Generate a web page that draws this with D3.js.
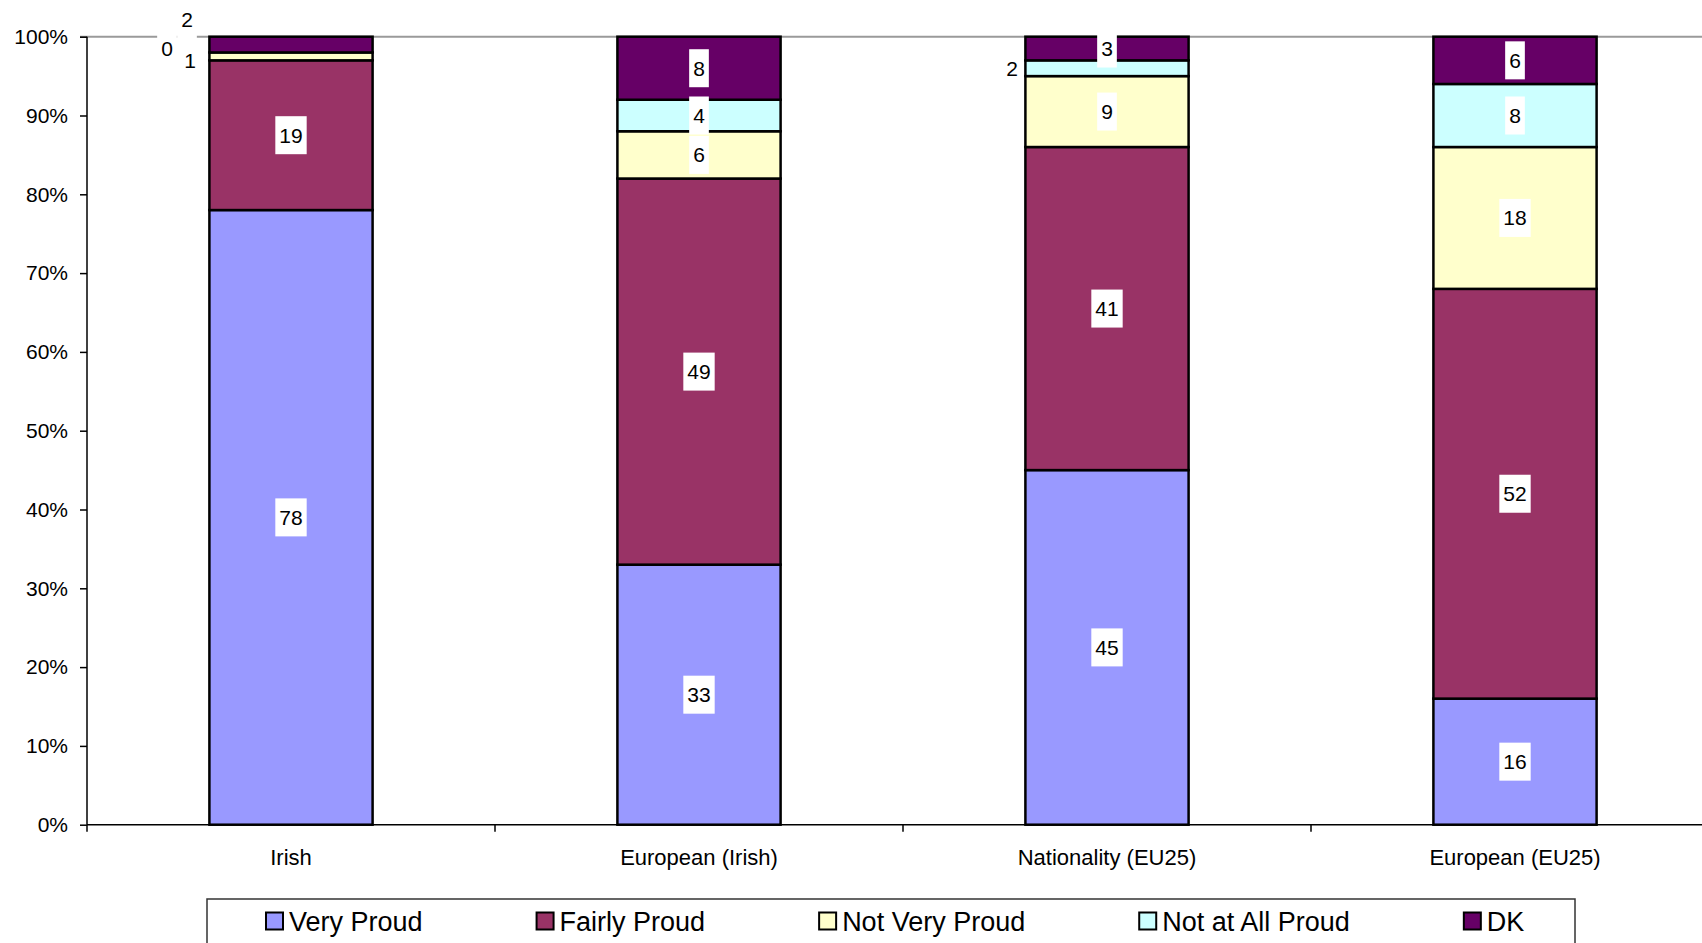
<!DOCTYPE html>
<html>
<head>
<meta charset="utf-8">
<script src="https://cdn.jsdelivr.net/npm/d3@7"></script>
<style>
  html, body { margin: 0; padding: 0; background: #fff; }
  svg { display: block; font-family: "Liberation Sans", Arial, sans-serif; }
</style>
</head>
<body>
<svg id="chart" width="1702" height="943"></svg>
<script>
// Pride in nationality / being European, % of respondents
const categories = ["Irish", "European (Irish)", "Nationality (EU25)", "European (EU25)"];
const seriesNames = ["Very Proud", "Fairly Proud", "Not Very Proud", "Not at All Proud", "DK"];
const veryProud     = [78, 33, 45, 16];
const fairlyProud   = [19, 49, 41, 52];
const notVeryProud  = [1, 6, 9, 18];
const notAtAllProud = [0, 4, 2, 8];
const dontKnow      = [2, 8, 3, 6];
const yTicks = [0, 10, 20, 30, 40, 50, 60, 70, 80, 90, 100];

const seriesValues = [veryProud, fairlyProud, notVeryProud, notAtAllProud, dontKnow];
const colors = ["#9999FF", "#993366", "#FFFFCC", "#CCFFFF", "#660066"];

// Labels of thin segments sit beside the bar instead of inside it (px offsets)
const labelNudge = {
  "Irish|Not Very Proud": [-101, 4],
  "Irish|Not at All Proud": [-124, -4],
  "Irish|DK": [-104, -25],
  "Nationality (EU25)|Not at All Proud": [-95, 0]
};

const svg = d3.select("#chart");
const plot = { left: 87, right: 1719, top: 36.7, bottom: 824.7 };

const x = d3.scaleBand()
  .domain(categories)
  .range([plot.left, plot.right])
  .paddingInner(0.6)
  .paddingOuter(0.3);

const y = d3.scaleLinear()
  .domain([0, 100])
  .range([plot.bottom, plot.top]);

// Stack the series per category
const rows = categories.map((c, i) => {
  const r = { category: c };
  seriesNames.forEach((s, k) => { r[s] = seriesValues[k][i]; });
  return r;
});
const stacked = d3.stack().keys(seriesNames)(rows);

// Top border of the plot area
svg.append("line")
  .attr("x1", plot.left - 7).attr("x2", 1702)
  .attr("y1", y(100)).attr("y2", y(100))
  .attr("stroke", "#9a9a9a").attr("stroke-width", 2);

// Bars
const layers = svg.append("g").selectAll("g")
  .data(stacked)
  .join("g")
  .attr("fill", (d, k) => colors[k]);

layers.selectAll("rect")
  .data(d => d.map(p => ({ p, key: d.key })))
  .join("rect")
  .attr("x", d => x(d.p.data.category))
  .attr("width", x.bandwidth())
  .attr("y", d => y(d.p[1]))
  .attr("height", d => y(d.p[0]) - y(d.p[1]))
  .attr("stroke", "#000")
  .attr("stroke-width", 2.5);

// Y axis
const yAxis = svg.append("g")
  .attr("transform", `translate(${plot.left},0)`)
  .call(d3.axisLeft(y).tickValues(yTicks).tickFormat(d => d + "%").tickSize(7).tickPadding(12));
yAxis.select(".domain").attr("stroke", "#000").attr("stroke-width", 1.5)
  .attr("d", `M0,${y(100)}V${y(0)}`);
yAxis.selectAll(".tick line").attr("stroke", "#000").attr("stroke-width", 1.5);
yAxis.selectAll(".tick text")
  .attr("font-size", 21).attr("fill", "#000")
  .attr("font-family", "Liberation Sans, Arial, sans-serif");

// X axis line and category boundary ticks
const xAxis = svg.append("g");
xAxis.append("line")
  .attr("x1", plot.left).attr("x2", 1702)
  .attr("y1", y(0)).attr("y2", y(0))
  .attr("stroke", "#000").attr("stroke-width", 1.5);
xAxis.selectAll(".bound")
  .data(d3.range(categories.length + 1))
  .join("line")
  .attr("class", "bound")
  .attr("x1", i => plot.left + i * (plot.right - plot.left) / categories.length)
  .attr("x2", i => plot.left + i * (plot.right - plot.left) / categories.length)
  .attr("y1", y(0)).attr("y2", y(0) + 7)
  .attr("stroke", "#000").attr("stroke-width", 1.5);
xAxis.selectAll(".cat")
  .data(categories)
  .join("text")
  .attr("class", "cat")
  .attr("x", d => x(d) + x.bandwidth() / 2)
  .attr("y", 857)
  .attr("dy", "0.35em")
  .attr("text-anchor", "middle")
  .attr("font-size", 22)
  .attr("fill", "#000")
  .text(d => d);

// Value labels with white boxes
const labels = [];
stacked.forEach(layer => {
  layer.forEach(p => {
    const key = p.data.category + "|" + layer.key;
    const nudge = labelNudge[key] || [0, 0];
    labels.push({
      value: p[1] - p[0],
      cx: x(p.data.category) + x.bandwidth() / 2 + nudge[0],
      cy: (y(p[0]) + y(p[1])) / 2 + nudge[1]
    });
  });
});

const labelG = svg.append("g").selectAll("g")
  .data(labels)
  .join("g")
  .attr("transform", d => `translate(${d.cx},${d.cy})`);
labelG.append("rect").attr("fill", "#fff");
labelG.append("text")
  .attr("text-anchor", "middle")
  .attr("dy", "0.35em")
  .attr("font-size", 21)
  .attr("fill", "#000")
  .text(d => d.value);
labelG.each(function () {
  const g = d3.select(this);
  const w = g.select("text").node().getComputedTextLength() + 8;
  g.select("rect").attr("x", -w / 2).attr("y", -19).attr("width", w).attr("height", 38);
});

// Legend
const legend = svg.append("g");
legend.append("rect")
  .attr("x", 207).attr("y", 899)
  .attr("width", 1575 - 207).attr("height", 80)
  .attr("fill", "#fff").attr("stroke", "#333").attr("stroke-width", 1.5);
let lx = 266;
seriesNames.forEach((s, k) => {
  const item = legend.append("g").attr("transform", `translate(${lx},921.5)`);
  item.append("rect")
    .attr("x", 0).attr("y", -9).attr("width", 17).attr("height", 17)
    .attr("fill", colors[k]).attr("stroke", "#000").attr("stroke-width", 2);
  const t = item.append("text")
    .attr("x", 23).attr("dy", "0.35em")
    .attr("font-size", 27).attr("fill", "#000")
    .text(s);
  lx += 23 + t.node().getComputedTextLength() + 114;
});
</script>
</body>
</html>
